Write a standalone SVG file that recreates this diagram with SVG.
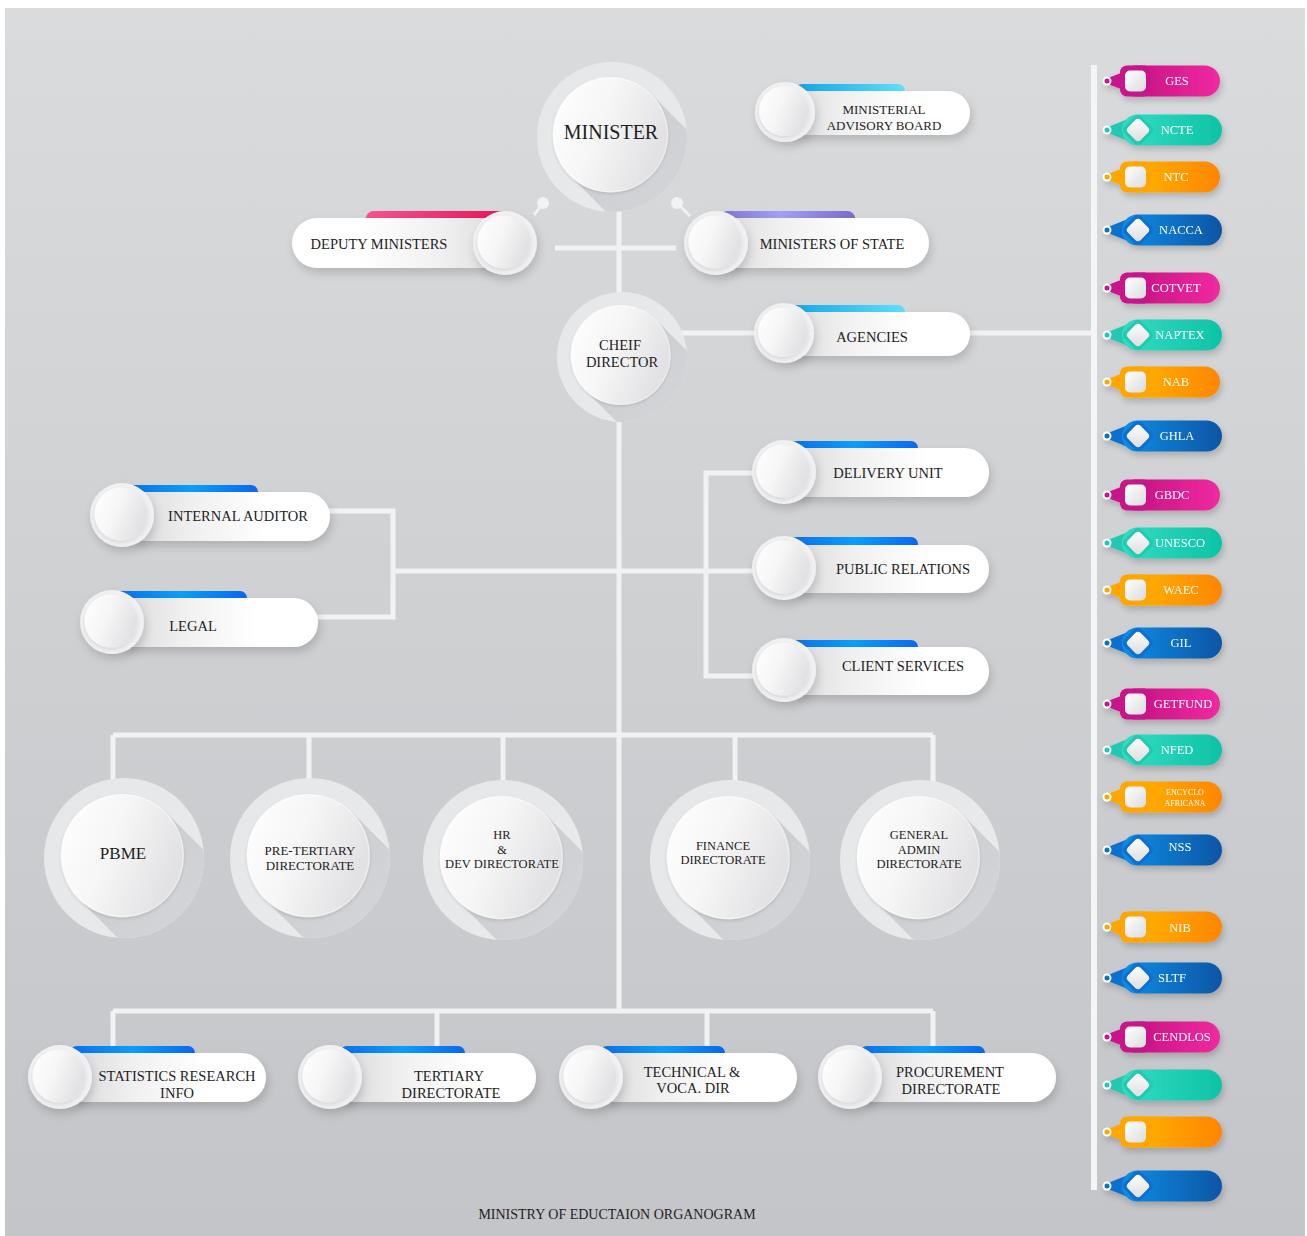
<svg xmlns="http://www.w3.org/2000/svg" width="1307" height="1236" viewBox="0 0 1307 1236" font-family="'Liberation Serif', 'DejaVu Serif', serif">
<style>
text{font-family:'Liberation Serif','DejaVu Serif',serif;fill:#1e1e1e;text-anchor:middle}
.t15{font-size:14.5px}.t13{font-size:13px}.t12{font-size:12.5px}
.conn{stroke:#f1f2f4;stroke-width:5;fill:none}
.card{filter:url(#sh)}
.lc{fill:url(#gCardL)}.rc{fill:url(#gCardR)}
.bBlue{fill:url(#gBlue)}.bCyan{fill:url(#gCyan)}.bPink{fill:url(#gPinkBar)}.bPurp{fill:url(#gPurp)}
.tag text{fill:#fff;font-size:12.5px}
.tag .w{fill:url(#gTagW)}
.tag .r{fill:#fff}
.pink .p{fill:url(#tPink)}.pink .c{fill:#c8138a}
.teal .p{fill:url(#tTeal)}.teal .c{fill:#22c9b0}
.orng .p{fill:url(#tOrng)}.orng .c{fill:#ffa600}
.blue .p{fill:url(#tBlue)}.blue .c{fill:#0a6fcf}
</style>
<defs>
<linearGradient id="gBg" x1="0" y1="0" x2="0" y2="1"><stop offset="0" stop-color="#dadbdd"/><stop offset="1" stop-color="#c4c5c8"/></linearGradient>
<linearGradient id="gCardL" x1="0" y1="0" x2="1" y2="0"><stop offset="0" stop-color="#d6d6d8"/><stop offset="0.35" stop-color="#f0f0f1"/><stop offset="0.7" stop-color="#ffffff"/></linearGradient>
<linearGradient id="gCardR" x1="1" y1="0" x2="0" y2="0"><stop offset="0" stop-color="#d6d6d8"/><stop offset="0.35" stop-color="#f0f0f1"/><stop offset="0.7" stop-color="#ffffff"/></linearGradient>
<linearGradient id="gBlue" x1="0" y1="0" x2="1" y2="0"><stop offset="0" stop-color="#0b6fe8"/><stop offset="0.5" stop-color="#0a9ff8"/><stop offset="1" stop-color="#0a68f0"/></linearGradient>
<linearGradient id="gCyan" x1="0" y1="0" x2="1" y2="0"><stop offset="0" stop-color="#10a6e6"/><stop offset="1" stop-color="#62defc"/></linearGradient>
<linearGradient id="gPinkBar" x1="0" y1="0" x2="1" y2="0"><stop offset="0" stop-color="#f45590"/><stop offset="1" stop-color="#e8135a"/></linearGradient>
<linearGradient id="gPurp" x1="0" y1="0" x2="1" y2="0"><stop offset="0" stop-color="#7f74d0"/><stop offset="0.45" stop-color="#a3a0f8"/><stop offset="1" stop-color="#7a6cc4"/></linearGradient>
<linearGradient id="tPink" x1="0" y1="0" x2="1" y2="0"><stop offset="0" stop-color="#c0107f"/><stop offset="1" stop-color="#f02aa0"/></linearGradient>
<linearGradient id="tTeal" x1="0" y1="0" x2="1" y2="0"><stop offset="0" stop-color="#34dcc4"/><stop offset="1" stop-color="#0dc3a5"/></linearGradient>
<linearGradient id="tOrng" x1="0" y1="0" x2="1" y2="0"><stop offset="0" stop-color="#ffb800"/><stop offset="1" stop-color="#ff8600"/></linearGradient>
<linearGradient id="tBlue" x1="0" y1="0" x2="1" y2="0"><stop offset="0" stop-color="#0a8ee6"/><stop offset="1" stop-color="#0c55a4"/></linearGradient>
<linearGradient id="gTagW" x1="0" y1="0" x2="1" y2="1"><stop offset="0" stop-color="#ffffff"/><stop offset="1" stop-color="#dcdcde"/></linearGradient>
<linearGradient id="gInner" x1="0" y1="0" x2="1" y2="0.4"><stop offset="0" stop-color="#ffffff"/><stop offset="0.5" stop-color="#f6f6f7"/><stop offset="1" stop-color="#e2e2e4"/></linearGradient>
<linearGradient id="gOuter" x1="0" y1="0" x2="1" y2="1"><stop offset="0" stop-color="#e6e7e9"/><stop offset="1" stop-color="#e9eaec"/></linearGradient>
<linearGradient id="gLong" x1="0" y1="0" x2="1" y2="1"><stop offset="0" stop-color="#c9cacd"/><stop offset="1" stop-color="#dcdde0"/></linearGradient>
<filter id="sh" x="-20%" y="-30%" width="140%" height="180%"><feDropShadow dx="2" dy="5" stdDeviation="5" flood-color="#000" flood-opacity="0.16"/></filter>
<filter id="shT" x="-20%" y="-30%" width="140%" height="180%"><feDropShadow dx="2" dy="4" stdDeviation="3" flood-color="#000" flood-opacity="0.18"/></filter>
<filter id="shD" x="-20%" y="-20%" width="140%" height="140%"><feDropShadow dx="0" dy="2" stdDeviation="2" flood-color="#000" flood-opacity="0.12"/></filter>
<clipPath id="discClip"><circle r="100"/></clipPath>
<g id="disc">
<circle r="100" fill="url(#gOuter)"/>
<g clip-path="url(#discClip)"><polygon points="52.4,-57.4 202.4,92.6 93.6,201.4 -56.4,51.4" fill="url(#gLong)"/></g>
<circle cx="-2" cy="-3" r="77" fill="url(#gInner)" filter="url(#shD)"/>
<circle cx="-2" cy="-3" r="76" fill="none" stroke="#ffffff" stroke-opacity="0.6" stroke-width="1"/>
</g>
<g id="knob">
<circle r="32" fill="#f1f1f3" filter="url(#sh)"/>
<circle cx="-1" cy="-1" r="26.5" fill="url(#gInner)" filter="url(#shD)"/>
</g>
</defs>

<rect width="1307" height="1236" fill="#ffffff"/>
<rect x="5" y="8" width="1300" height="1228" fill="url(#gBg)"/>

<g id="connectors">
<line class="conn" x1="619" y1="200" x2="619" y2="1011"/>
<line class="conn" x1="555" y1="248" x2="676" y2="248"/>
<line class="conn" x1="680" y1="333" x2="760" y2="333"/>
<line class="conn" x1="965" y1="333" x2="1093" y2="333"/>
<line x1="1094" y1="65" x2="1094" y2="1190" stroke="#f4f5f6" stroke-width="6"/>
<line class="conn" x1="393" y1="571" x2="755" y2="571"/>
<path class="conn" d="M325,511 H393 V617 H315"/>
<path class="conn" d="M755,473 H706 V676 H755"/>
<line class="conn" x1="113" y1="735" x2="933" y2="735"/>
<path class="conn" d="M113,735 V790 M309,735 V790 M503,735 V790 M735,735 V790 M933,735 V790"/>
<line class="conn" x1="113" y1="1011" x2="933" y2="1011"/>
<path class="conn" d="M113,1011 V1055 M437,1011 V1055 M707,1011 V1055 M933,1011 V1055"/>
<line x1="534" y1="215" x2="543" y2="203" stroke="#eff0f2" stroke-width="3"/>
<circle cx="543" cy="203" r="6" fill="#f1f2f4"/>
<line x1="677" y1="203" x2="690" y2="216" stroke="#eff0f2" stroke-width="3"/>
<circle cx="677" cy="203" r="6" fill="#f1f2f4"/>
</g>

<g id="minister">
<use href="#disc" transform="translate(612,137) scale(0.75)"/>
<text x="611" y="139" font-size="20">MINISTER</text>
</g>

<g id="advisory-board">
<rect class="bCyan" x="795" y="84" width="110" height="14" rx="7"/>
<rect class="card lc" x="775" y="91" width="195" height="44" rx="22"/>
<use href="#knob" transform="translate(785,112) scale(0.94)"/>
<text class="t13" x="884" y="114">MINISTERIAL</text>
<text class="t13" x="884" y="130">ADVISORY BOARD</text>
</g>

<g id="deputy-ministers">
<rect class="bPink" x="366" y="211" width="140" height="15" rx="7.5"/>
<rect class="card rc" x="292" y="218" width="230" height="50" rx="25"/>
<use href="#knob" transform="translate(505,243)"/>
<text class="t15" x="379" y="249">DEPUTY MINISTERS</text>
</g>

<g id="ministers-of-state">
<rect class="bPurp" x="720" y="211" width="135" height="15" rx="7.5"/>
<rect class="card lc" x="700" y="218" width="229" height="50" rx="25"/>
<use href="#knob" transform="translate(716,243)"/>
<text class="t15" x="832" y="249">MINISTERS OF STATE</text>
</g>

<g id="chief-director">
<use href="#disc" transform="translate(622,357) scale(0.65)"/>
<text x="620" y="350" font-size="14.5">CHEIF</text>
<text x="622" y="367" font-size="14.5">DIRECTOR</text>
</g>

<g id="agencies">
<rect class="bCyan" x="785" y="305" width="120" height="14" rx="7"/>
<rect class="card lc" x="775" y="312" width="195" height="44" rx="22"/>
<use href="#knob" transform="translate(784,333) scale(0.94)"/>
<text class="t15" x="872" y="342">AGENCIES</text>
</g>

<g id="internal-auditor">
<rect class="bBlue" x="125" y="485" width="133" height="14" rx="7"/>
<rect class="card lc" x="120" y="492" width="210" height="49" rx="24.5"/>
<use href="#knob" transform="translate(122,515)"/>
<text class="t15" x="238" y="521">INTERNAL AUDITOR</text>
</g>

<g id="legal">
<rect class="bBlue" x="115" y="591" width="132" height="14" rx="7"/>
<rect class="card lc" x="110" y="598" width="208" height="49" rx="24.5"/>
<use href="#knob" transform="translate(112,622)"/>
<text class="t15" x="193" y="631">LEGAL</text>
</g>

<g id="delivery-unit">
<rect class="bBlue" x="790" y="441" width="128" height="14" rx="7"/>
<rect class="card lc" x="780" y="448" width="209" height="49" rx="24.5"/>
<use href="#knob" transform="translate(784,472)"/>
<text class="t15" x="888" y="478">DELIVERY UNIT</text>
</g>

<g id="public-relations">
<rect class="bBlue" x="790" y="537" width="128" height="14" rx="7"/>
<rect class="card lc" x="780" y="545" width="209" height="48" rx="24"/>
<use href="#knob" transform="translate(784,568)"/>
<text class="t15" x="903" y="574">PUBLIC RELATIONS</text>
</g>

<g id="client-services">
<rect class="bBlue" x="790" y="640" width="128" height="14" rx="7"/>
<rect class="card lc" x="780" y="647" width="209" height="48" rx="24"/>
<use href="#knob" transform="translate(784,670)"/>
<text class="t15" x="903" y="671">CLIENT SERVICES</text>
</g>

<g id="pbme">
<use href="#disc" transform="translate(124,858) scale(0.8)"/>
<text x="123" y="859" font-size="17">PBME</text>
</g>
<g id="pre-tertiary">
<use href="#disc" transform="translate(310,858) scale(0.8)"/>
<text class="t13" x="310" y="855">PRE-TERTIARY</text>
<text class="t13" x="310" y="870">DIRECTORATE</text>
</g>
<g id="hr-dev">
<use href="#disc" transform="translate(503,860) scale(0.8)"/>
<text class="t12" x="502" y="839">HR</text>
<text class="t12" x="502" y="854">&amp;</text>
<text class="t12" x="502" y="868">DEV DIRECTORATE</text>
</g>
<g id="finance">
<use href="#disc" transform="translate(730,860) scale(0.8)"/>
<text class="t12" x="723" y="850">FINANCE</text>
<text class="t12" x="723" y="864">DIRECTORATE</text>
</g>
<g id="general-admin">
<use href="#disc" transform="translate(920,860) scale(0.8)"/>
<text class="t12" x="919" y="839">GENERAL</text>
<text class="t12" x="919" y="854">ADMIN</text>
<text class="t12" x="919" y="868">DIRECTORATE</text>
</g>

<g id="statistics">
<rect class="bBlue" x="70" y="1046" width="125" height="14" rx="7"/>
<rect class="card lc" x="60" y="1053" width="206" height="49" rx="24.5"/>
<use href="#knob" transform="translate(60,1077)"/>
<text class="t15" x="177" y="1081">STATISTICS RESEARCH</text>
<text class="t15" x="177" y="1098">INFO</text>
</g>
<g id="tertiary">
<rect class="bBlue" x="340" y="1046" width="125" height="14" rx="7"/>
<rect class="card lc" x="330" y="1053" width="206" height="49" rx="24.5"/>
<use href="#knob" transform="translate(330,1077)"/>
<text class="t15" x="449" y="1081">TERTIARY</text>
<text class="t15" x="451" y="1098">DIRECTORATE</text>
</g>
<g id="technical">
<rect class="bBlue" x="600" y="1046" width="125" height="14" rx="7"/>
<rect class="card lc" x="591" y="1053" width="206" height="49" rx="24.5"/>
<use href="#knob" transform="translate(591,1077)"/>
<text class="t15" x="692" y="1077">TECHNICAL &amp;</text>
<text class="t15" x="693" y="1093">VOCA. DIR</text>
</g>
<g id="procurement">
<rect class="bBlue" x="860" y="1046" width="125" height="14" rx="7"/>
<rect class="card lc" x="850" y="1053" width="206" height="49" rx="24.5"/>
<use href="#knob" transform="translate(850,1077)"/>
<text class="t15" x="950" y="1077">PROCUREMENT</text>
<text class="t15" x="951" y="1094">DIRECTORATE</text>
</g>

<g id="tag-ges" class="tag pink" transform="translate(0,81)" filter="url(#shT)">
<polygon class="c" points="1108,-3 1126,-10 1126,10 1108,3"/><rect class="p" x="1120" y="-15.5" width="100" height="31" rx="15.5"/><rect class="c" x="1120" y="-15.5" width="31" height="31" rx="7"/><rect class="w" x="1125" y="-10.5" width="21" height="21" rx="5"/><circle class="r" cx="1107" cy="0" r="4.5"/><circle class="c" cx="1107" cy="0" r="2.5"/>
<text x="1177" y="4">GES</text></g>
<g id="tag-ncte" class="tag teal" transform="translate(0,130)" filter="url(#shT)">
<polygon class="c" points="1108,-3 1128,-11 1128,11 1108,3"/><rect class="p" x="1122" y="-15.5" width="100" height="31" rx="15.5"/><rect class="c" x="-12" y="-12" width="24" height="24" rx="5" transform="translate(1138,0) rotate(45)"/><rect class="w" x="-9" y="-9" width="18" height="18" rx="4" transform="translate(1138,0) rotate(45)"/><circle class="r" cx="1107" cy="0" r="4.5"/><circle class="c" cx="1107" cy="0" r="2.5"/>
<text x="1177" y="4">NCTE</text></g>
<g id="tag-ntc" class="tag orng" transform="translate(0,177)" filter="url(#shT)">
<polygon class="c" points="1108,-3 1126,-10 1126,10 1108,3"/><rect class="p" x="1120" y="-15.5" width="100" height="31" rx="15.5"/><rect class="c" x="1120" y="-15.5" width="31" height="31" rx="7"/><rect class="w" x="1125" y="-10.5" width="21" height="21" rx="5"/><circle class="r" cx="1107" cy="0" r="4.5"/><circle class="c" cx="1107" cy="0" r="2.5"/>
<text x="1176" y="4">NTC</text></g>
<g id="tag-nacca" class="tag blue" transform="translate(0,230)" filter="url(#shT)">
<polygon class="c" points="1108,-3 1128,-11 1128,11 1108,3"/><rect class="p" x="1122" y="-15.5" width="100" height="31" rx="15.5"/><rect class="c" x="-12" y="-12" width="24" height="24" rx="5" transform="translate(1138,0) rotate(45)"/><rect class="w" x="-9" y="-9" width="18" height="18" rx="4" transform="translate(1138,0) rotate(45)"/><circle class="r" cx="1107" cy="0" r="4.5"/><circle class="c" cx="1107" cy="0" r="2.5"/>
<text x="1181" y="4">NACCA</text></g>
<g id="tag-cotvet" class="tag pink" transform="translate(0,288)" filter="url(#shT)">
<polygon class="c" points="1108,-3 1126,-10 1126,10 1108,3"/><rect class="p" x="1120" y="-15.5" width="100" height="31" rx="15.5"/><rect class="c" x="1120" y="-15.5" width="31" height="31" rx="7"/><rect class="w" x="1125" y="-10.5" width="21" height="21" rx="5"/><circle class="r" cx="1107" cy="0" r="4.5"/><circle class="c" cx="1107" cy="0" r="2.5"/>
<text x="1176" y="4">COTVET</text></g>
<g id="tag-naptex" class="tag teal" transform="translate(0,335)" filter="url(#shT)">
<polygon class="c" points="1108,-3 1128,-11 1128,11 1108,3"/><rect class="p" x="1122" y="-15.5" width="100" height="31" rx="15.5"/><rect class="c" x="-12" y="-12" width="24" height="24" rx="5" transform="translate(1138,0) rotate(45)"/><rect class="w" x="-9" y="-9" width="18" height="18" rx="4" transform="translate(1138,0) rotate(45)"/><circle class="r" cx="1107" cy="0" r="4.5"/><circle class="c" cx="1107" cy="0" r="2.5"/>
<text x="1180" y="4">NAPTEX</text></g>
<g id="tag-nab" class="tag orng" transform="translate(0,382)" filter="url(#shT)">
<polygon class="c" points="1108,-3 1126,-10 1126,10 1108,3"/><rect class="p" x="1120" y="-15.5" width="100" height="31" rx="15.5"/><rect class="c" x="1120" y="-15.5" width="31" height="31" rx="7"/><rect class="w" x="1125" y="-10.5" width="21" height="21" rx="5"/><circle class="r" cx="1107" cy="0" r="4.5"/><circle class="c" cx="1107" cy="0" r="2.5"/>
<text x="1176" y="4">NAB</text></g>
<g id="tag-ghla" class="tag blue" transform="translate(0,436)" filter="url(#shT)">
<polygon class="c" points="1108,-3 1128,-11 1128,11 1108,3"/><rect class="p" x="1122" y="-15.5" width="100" height="31" rx="15.5"/><rect class="c" x="-12" y="-12" width="24" height="24" rx="5" transform="translate(1138,0) rotate(45)"/><rect class="w" x="-9" y="-9" width="18" height="18" rx="4" transform="translate(1138,0) rotate(45)"/><circle class="r" cx="1107" cy="0" r="4.5"/><circle class="c" cx="1107" cy="0" r="2.5"/>
<text x="1177" y="4">GHLA</text></g>
<g id="tag-gbdc" class="tag pink" transform="translate(0,495)" filter="url(#shT)">
<polygon class="c" points="1108,-3 1126,-10 1126,10 1108,3"/><rect class="p" x="1120" y="-15.5" width="100" height="31" rx="15.5"/><rect class="c" x="1120" y="-15.5" width="31" height="31" rx="7"/><rect class="w" x="1125" y="-10.5" width="21" height="21" rx="5"/><circle class="r" cx="1107" cy="0" r="4.5"/><circle class="c" cx="1107" cy="0" r="2.5"/>
<text x="1172" y="4">GBDC</text></g>
<g id="tag-unesco" class="tag teal" transform="translate(0,543)" filter="url(#shT)">
<polygon class="c" points="1108,-3 1128,-11 1128,11 1108,3"/><rect class="p" x="1122" y="-15.5" width="100" height="31" rx="15.5"/><rect class="c" x="-12" y="-12" width="24" height="24" rx="5" transform="translate(1138,0) rotate(45)"/><rect class="w" x="-9" y="-9" width="18" height="18" rx="4" transform="translate(1138,0) rotate(45)"/><circle class="r" cx="1107" cy="0" r="4.5"/><circle class="c" cx="1107" cy="0" r="2.5"/>
<text x="1180" y="4">UNESCO</text></g>
<g id="tag-waec" class="tag orng" transform="translate(0,590)" filter="url(#shT)">
<polygon class="c" points="1108,-3 1126,-10 1126,10 1108,3"/><rect class="p" x="1120" y="-15.5" width="102" height="31" rx="15.5"/><rect class="c" x="1120" y="-15.5" width="31" height="31" rx="7"/><rect class="w" x="1125" y="-10.5" width="21" height="21" rx="5"/><circle class="r" cx="1107" cy="0" r="4.5"/><circle class="c" cx="1107" cy="0" r="2.5"/>
<text x="1181" y="4">WAEC</text></g>
<g id="tag-gil" class="tag blue" transform="translate(0,643)" filter="url(#shT)">
<polygon class="c" points="1108,-3 1128,-11 1128,11 1108,3"/><rect class="p" x="1122" y="-15.5" width="100" height="31" rx="15.5"/><rect class="c" x="-12" y="-12" width="24" height="24" rx="5" transform="translate(1138,0) rotate(45)"/><rect class="w" x="-9" y="-9" width="18" height="18" rx="4" transform="translate(1138,0) rotate(45)"/><circle class="r" cx="1107" cy="0" r="4.5"/><circle class="c" cx="1107" cy="0" r="2.5"/>
<text x="1181" y="4">GIL</text></g>
<g id="tag-getfund" class="tag pink" transform="translate(0,704)" filter="url(#shT)">
<polygon class="c" points="1108,-3 1126,-10 1126,10 1108,3"/><rect class="p" x="1120" y="-15.5" width="100" height="31" rx="15.5"/><rect class="c" x="1120" y="-15.5" width="31" height="31" rx="7"/><rect class="w" x="1125" y="-10.5" width="21" height="21" rx="5"/><circle class="r" cx="1107" cy="0" r="4.5"/><circle class="c" cx="1107" cy="0" r="2.5"/>
<text x="1183" y="4">GETFUND</text></g>
<g id="tag-nfed" class="tag teal" transform="translate(0,750)" filter="url(#shT)">
<polygon class="c" points="1108,-3 1128,-11 1128,11 1108,3"/><rect class="p" x="1122" y="-15.5" width="100" height="31" rx="15.5"/><rect class="c" x="-12" y="-12" width="24" height="24" rx="5" transform="translate(1138,0) rotate(45)"/><rect class="w" x="-9" y="-9" width="18" height="18" rx="4" transform="translate(1138,0) rotate(45)"/><circle class="r" cx="1107" cy="0" r="4.5"/><circle class="c" cx="1107" cy="0" r="2.5"/>
<text x="1177" y="4">NFED</text></g>
<g id="tag-encyclo" class="tag orng" transform="translate(0,797)" filter="url(#shT)">
<polygon class="c" points="1108,-3 1126,-10 1126,10 1108,3"/><rect class="p" x="1120" y="-15.5" width="102" height="31" rx="15.5"/><rect class="c" x="1120" y="-15.5" width="31" height="31" rx="7"/><rect class="w" x="1125" y="-10.5" width="21" height="21" rx="5"/><circle class="r" cx="1107" cy="0" r="4.5"/><circle class="c" cx="1107" cy="0" r="2.5"/>
<text x="1185" y="-2" font-size="8" style="font-size:8px">ENCYCLO</text><text x="1185" y="9" style="font-size:8px">AFRICANA</text></g>
<g id="tag-nss" class="tag blue" transform="translate(0,850)" filter="url(#shT)">
<polygon class="c" points="1108,-3 1128,-11 1128,11 1108,3"/><rect class="p" x="1122" y="-15.5" width="100" height="31" rx="15.5"/><rect class="c" x="-12" y="-12" width="24" height="24" rx="5" transform="translate(1138,0) rotate(45)"/><rect class="w" x="-9" y="-9" width="18" height="18" rx="4" transform="translate(1138,0) rotate(45)"/><circle class="r" cx="1107" cy="0" r="4.5"/><circle class="c" cx="1107" cy="0" r="2.5"/>
<text x="1180" y="1">NSS</text></g>
<g id="tag-nib" class="tag orng" transform="translate(0,927)" filter="url(#shT)">
<polygon class="c" points="1108,-3 1126,-10 1126,10 1108,3"/><rect class="p" x="1120" y="-15.5" width="102" height="31" rx="15.5"/><rect class="c" x="1120" y="-15.5" width="31" height="31" rx="7"/><rect class="w" x="1125" y="-10.5" width="21" height="21" rx="5"/><circle class="r" cx="1107" cy="0" r="4.5"/><circle class="c" cx="1107" cy="0" r="2.5"/>
<text x="1180" y="5">NIB</text></g>
<g id="tag-sltf" class="tag blue" transform="translate(0,978)" filter="url(#shT)">
<polygon class="c" points="1108,-3 1128,-11 1128,11 1108,3"/><rect class="p" x="1122" y="-15.5" width="100" height="31" rx="15.5"/><rect class="c" x="-12" y="-12" width="24" height="24" rx="5" transform="translate(1138,0) rotate(45)"/><rect class="w" x="-9" y="-9" width="18" height="18" rx="4" transform="translate(1138,0) rotate(45)"/><circle class="r" cx="1107" cy="0" r="4.5"/><circle class="c" cx="1107" cy="0" r="2.5"/>
<text x="1172" y="4">SLTF</text></g>
<g id="tag-cendlos" class="tag pink" transform="translate(0,1037)" filter="url(#shT)">
<polygon class="c" points="1108,-3 1126,-10 1126,10 1108,3"/><rect class="p" x="1120" y="-15.5" width="100" height="31" rx="15.5"/><rect class="c" x="1120" y="-15.5" width="31" height="31" rx="7"/><rect class="w" x="1125" y="-10.5" width="21" height="21" rx="5"/><circle class="r" cx="1107" cy="0" r="4.5"/><circle class="c" cx="1107" cy="0" r="2.5"/>
<text x="1182" y="4">CENDLOS</text></g>
<g id="tag-blank-teal" class="tag teal" transform="translate(0,1085)" filter="url(#shT)">
<polygon class="c" points="1108,-3 1128,-11 1128,11 1108,3"/><rect class="p" x="1122" y="-15.5" width="100" height="31" rx="15.5"/><rect class="c" x="-12" y="-12" width="24" height="24" rx="5" transform="translate(1138,0) rotate(45)"/><rect class="w" x="-9" y="-9" width="18" height="18" rx="4" transform="translate(1138,0) rotate(45)"/><circle class="r" cx="1107" cy="0" r="4.5"/><circle class="c" cx="1107" cy="0" r="2.5"/></g>
<g id="tag-blank-orange" class="tag orng" transform="translate(0,1132)" filter="url(#shT)">
<polygon class="c" points="1108,-3 1126,-10 1126,10 1108,3"/><rect class="p" x="1120" y="-15.5" width="102" height="31" rx="15.5"/><rect class="c" x="1120" y="-15.5" width="31" height="31" rx="7"/><rect class="w" x="1125" y="-10.5" width="21" height="21" rx="5"/><circle class="r" cx="1107" cy="0" r="4.5"/><circle class="c" cx="1107" cy="0" r="2.5"/></g>
<g id="tag-blank-blue" class="tag blue" transform="translate(0,1186)" filter="url(#shT)">
<polygon class="c" points="1108,-3 1128,-11 1128,11 1108,3"/><rect class="p" x="1122" y="-15.5" width="100" height="31" rx="15.5"/><rect class="c" x="-12" y="-12" width="24" height="24" rx="5" transform="translate(1138,0) rotate(45)"/><rect class="w" x="-9" y="-9" width="18" height="18" rx="4" transform="translate(1138,0) rotate(45)"/><circle class="r" cx="1107" cy="0" r="4.5"/><circle class="c" cx="1107" cy="0" r="2.5"/></g>

<text id="title" x="617" y="1219" font-size="14">MINISTRY OF EDUCTAION ORGANOGRAM</text>
</svg>
